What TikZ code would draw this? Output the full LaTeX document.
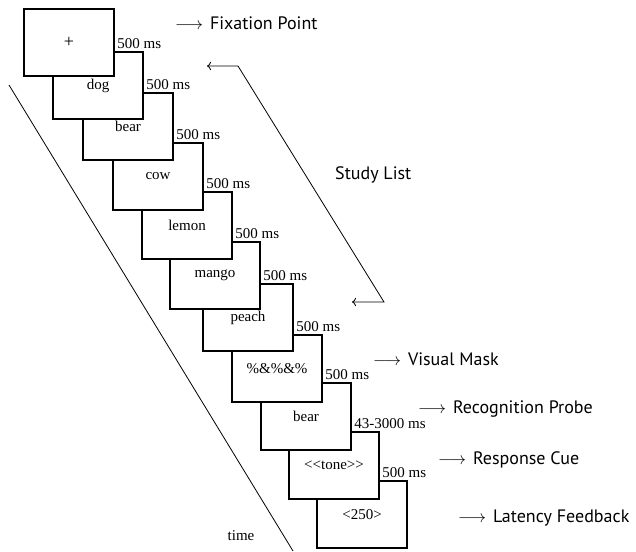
\documentclass[tikz,border=0pt]{standalone}
\usepackage{fontspec}
\setmainfont{Liberation Serif}
\newfontfamily\stagefont{PT Sans}
\usetikzlibrary{arrows.meta}
\def\sz{\fontsize{15}{17}\selectfont}
\def\arr{{\fontsize{17}{19}\selectfont$\longrightarrow$}\hspace{7pt}}

\begin{document}
\begin{tikzpicture}[x=1pt, y=-1pt,
	screen/.style={draw, fill=white, line width=1.3pt, minimum width=90pt, minimum height=67pt, inner sep=0pt, font=\sz},
	dur/.style={anchor=south west, inner sep=2.5pt, font=\sz},
	stage/.style={anchor=west, inner sep=0pt, font=\stagefont\fontsize{18}{20}\selectfont}]
	\useasboundingbox (0,0) rectangle (636,551);
	% screens, last one first so the earlier ones lie on top
	\node[screen] (s11) at (362,514.5) {<250>};
	\node[screen] (s10) at (334,465.5) {<{}<tone>{}>};
	\node[screen] (s9) at (306,416.5) {bear};
	\node[screen] (s8) at (277,368.5) {\%\&\%\&\%};
	\node[screen] (s7) at (248,317.5) {peach};
	\node[screen] (s6) at (215,275.5) {mango};
	\node[screen] (s5) at (187,225.5) {lemon};
	\node[screen] (s4) at (158,176.5) {cow};
	\node[screen] (s3) at (128,126.5) {bear};
	\node[screen] (s2) at (98,85.5) {dog};
	\node[screen, font=\fontsize{18}{20}\selectfont] (s1) at (69,42.5) {+};
	% durations
	\node[dur] (d1) at (s1.east |- s2.north) {500 ms};
	\node[dur] (d2) at (s2.east |- s3.north) {500 ms};
	\node[dur] (d3) at (s3.east |- s4.north) {500 ms};
	\node[dur] (d4) at (s4.east |- s5.north) {500 ms};
	\node[dur] (d5) at (s5.east |- s6.north) {500 ms};
	\node[dur] (d6) at (s6.east |- s7.north) {500 ms};
	\node[dur] (d7) at (s7.east |- s8.north) {500 ms};
	\node[dur] (d8) at (s8.east |- s9.north) {500 ms};
	\node[dur] (d9) at (s9.east |- s10.north) {43-3000 ms};
	\node[dur] (d10) at (s10.east |- s11.north) {500 ms};
	% stage names
	\node[stage] (fix) at (175,23) {\arr Fixation Point};
	\node[stage] (study) at (335,175) {Study List};
	\node[stage] (mask) at (373,359) {\arr Visual Mask};
	\node[stage] (probe) at (418,409) {\arr Recognition Probe};
	\node[stage] (cue) at (438,460) {\arr Response Cue};
	\node[stage] (feed) at (458,518) {\arr Latency Feedback};
	% study list bracket
	\coordinate (listtop) at (207,66);
	\coordinate (listend) at (352,302);
	\draw[line width=0.8pt, {To[length=4pt]}-{To[length=4pt]}] (listtop) -- (238,66) -- (384,302) -- (listend);
	% time axis
	\coordinate (ttop) at (9,85);
	\coordinate (tbot) at (293,551);
	\draw[line width=0.8pt] (ttop) -- (tbot);
	\node[font=\sz] (time) at (241,536) {time};
\end{tikzpicture}
\end{document}
